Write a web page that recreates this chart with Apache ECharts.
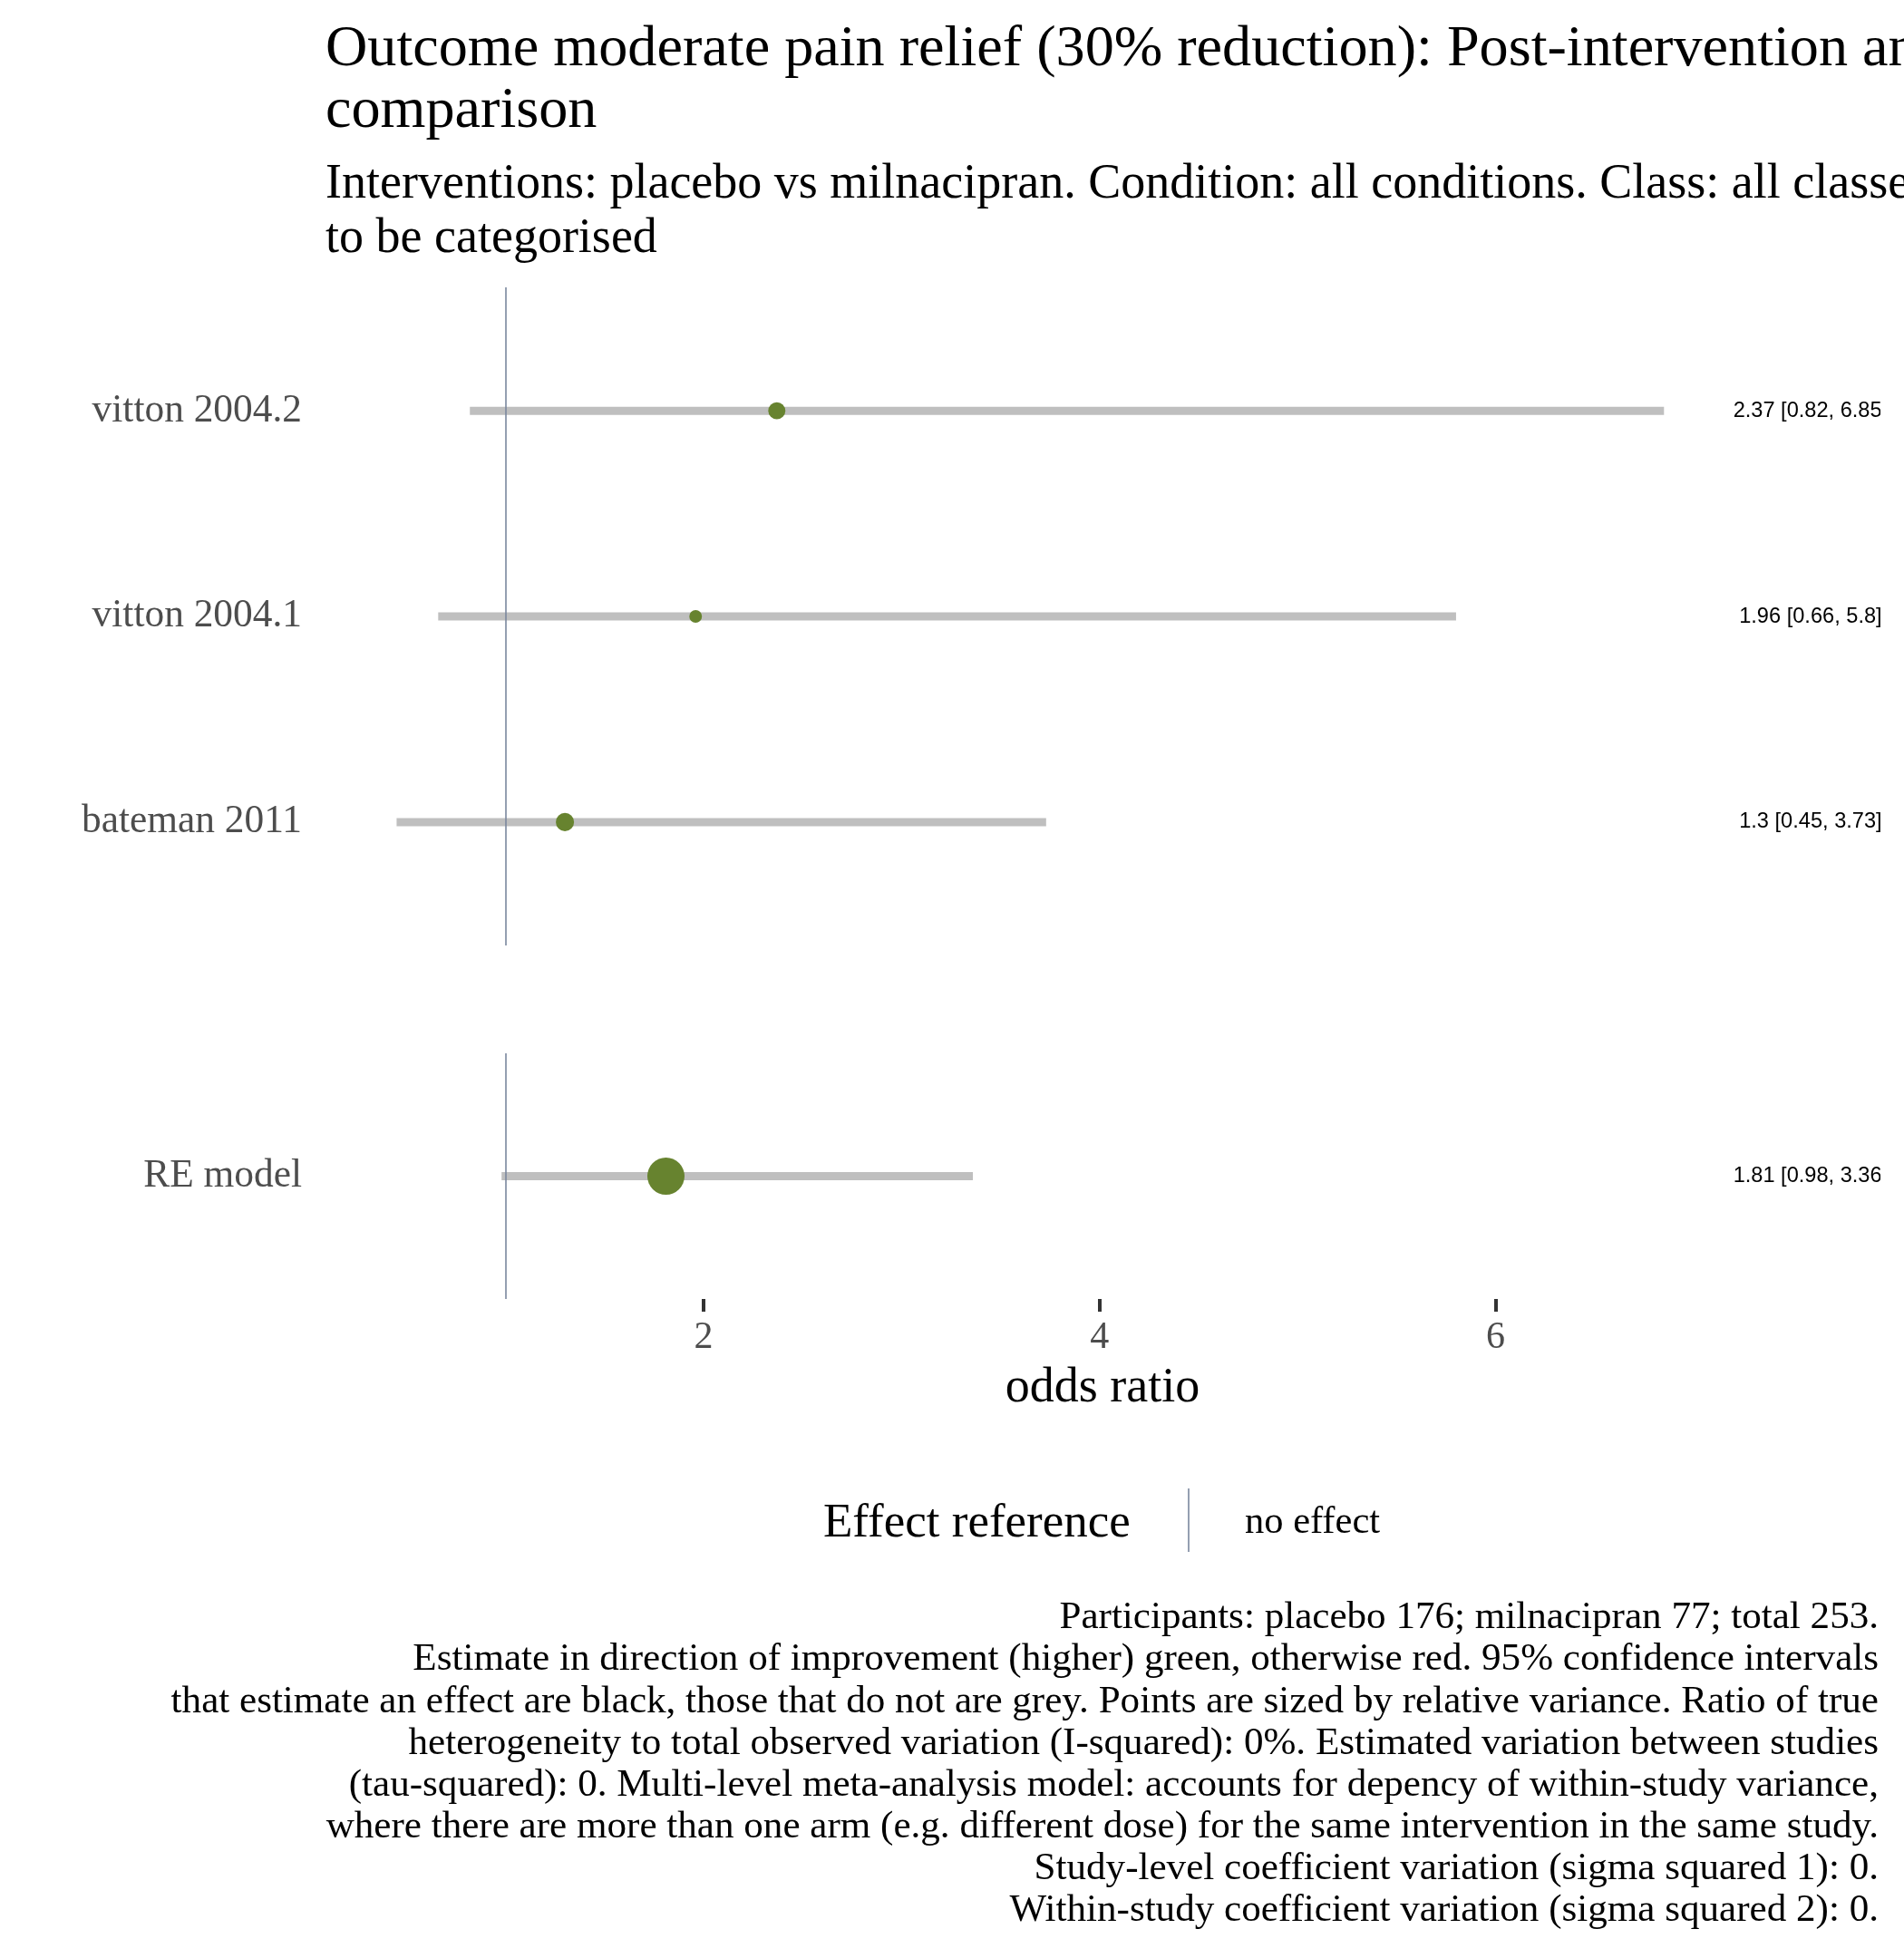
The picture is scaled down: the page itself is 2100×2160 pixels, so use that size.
<!DOCTYPE html>
<html><head><meta charset="utf-8">
<script src="https://cdn.jsdelivr.net/npm/echarts@6/dist/echarts.min.js"></script>
<style>html,body{margin:0;padding:0;background:#fff}#c{width:2100px;height:2160px}</style>
</head><body><div id="c"></div>
<script>
// ---- data ----
const studies = ['vitton 2004.2', 'vitton 2004.1', 'bateman 2011'];
const studyEst = [2.37, 1.96, 1.3];
const studyLo = [0.82, 0.66, 0.45];
const studyHi = [6.85, 5.8, 3.73];
const studyWeight = [0.46, 0.34, 0.49];
const modelNames = ['RE model'];
const modelEst = [1.81];
const modelLo = [0.98];
const modelHi = [3.36];
const modelWeight = [1];
const xTicks = [2, 4, 6];
const noEffect = [1];

const titleLines = ['Outcome moderate pain relief (30% reduction): Post-intervention and', 'comparison'];
const subtitleLines = ['Interventions: placebo vs milnacipran. Condition: all conditions. Class: all classes', 'to be categorised'];
const captionLines = [
  'Participants: placebo 176; milnacipran 77; total 253.',
  'Estimate in direction of improvement (higher) green, otherwise red. 95% confidence intervals',
  'that estimate an effect are black, those that do not are grey. Points are sized by relative variance. Ratio of true',
  'heterogeneity to total observed variation (I-squared): 0%. Estimated variation between studies',
  '(tau-squared): 0. Multi-level meta-analysis model: accounts for depency of within-study variance,',
  'where there are more than one arm (e.g. different dose) for the same intervention in the same study.',
  'Study-level coefficient variation (sigma squared 1): 0.',
  'Within-study coefficient variation (sigma squared 2): 0.'
];

// ---- styles / layout ----
const SERIF = 'Liberation Serif, Times New Roman, serif';
const SANS = 'Liberation Sans, Arial, sans-serif';
const GREEN = '#67832F';
const CI_GREY = '#BFBFBF';
const REF = '#7A879E';
const XMIN = 0.0863, XMAX = 7.943;
const LABEL_X = 7.59;
const MAX_PT = 41;
const GL = 358, GW = 1716;

const chart = echarts.init(document.getElementById('c'), null, {renderer: 'canvas'});

function ciSeries(idx, lo, hi) {
  return {
    type: 'custom', xAxisIndex: idx, yAxisIndex: idx, z: 1, silent: true,
    data: lo.map((v, i) => [v, hi[i], i + 1]),
    renderItem: (params, api) => {
      const a = api.coord([api.value(0), api.value(2)]);
      const b = api.coord([api.value(1), api.value(2)]);
      return {type: 'line', shape: {x1: a[0], y1: a[1], x2: b[0], y2: b[1]},
        style: {stroke: CI_GREY, lineWidth: 9, lineCap: 'butt'}};
    }
  };
}
function ptSeries(idx, est, w) {
  return {
    type: 'scatter', xAxisIndex: idx, yAxisIndex: idx, z: 3, silent: true,
    data: est.map((v, i) => [v, i + 1]),
    symbol: 'circle',
    symbolSize: (val, p) => MAX_PT * w[p.dataIndex],
    itemStyle: {color: GREEN, opacity: 1},
    markLine: {
      silent: true, symbol: ['none', 'none'], label: {show: false},
      lineStyle: {color: REF, width: 1.6, type: 'solid'},
      data: noEffect.map(v => ({xAxis: v})), animation: false
    }
  };
}
function lblSeries(idx, est, lo, hi) {
  return {
    type: 'custom', xAxisIndex: idx, yAxisIndex: idx, z: 4, silent: true, clip: true,
    data: est.map((v, i) => [LABEL_X, i + 1]),
    renderItem: (params, api) => {
      const i = params.dataIndex;
      const p = api.coord([api.value(0), api.value(1)]);
      return {type: 'text', x: p[0], y: p[1],
        style: {text: est[i] + ' [' + lo[i] + ', ' + hi[i] + ']', fill: '#000',
          fontSize: 23.6, fontFamily: SANS, align: 'center', verticalAlign: 'middle'}};
    }
  };
}
function yAx(idx, names, max) {
  return {
    type: 'value', gridIndex: idx, inverse: true, min: 0.4, max: max,
    axisLine: {show: false}, axisTick: {show: false}, splitLine: {show: false},
    axisLabel: {customValues: names.map((n, i) => i + 1),
      formatter: v => names[Math.round(v) - 1] || '',
      fontSize: 43.4, fontFamily: SERIF, color: '#4D4D4D', margin: 25}
  };
}

const graphics = [];
titleLines.forEach((t, i) => graphics.push({type: 'text', x: 359, y: 55 + i * 68.5,
  style: {text: t, fontSize: 64.2, fontFamily: SERIF, fill: '#000', verticalAlign: 'middle'}}));
subtitleLines.forEach((t, i) => graphics.push({type: 'text', x: 359, y: 204 + i * 59.6,
  style: {text: t, fontSize: 54, fontFamily: SERIF, fill: '#000', verticalAlign: 'middle'}}));
captionLines.forEach((t, i) => graphics.push({type: 'text', x: 2072, y: 1785 + i * 46.1,
  style: {text: t, fontSize: 43.1, fontFamily: SERIF, fill: '#000', align: 'right', verticalAlign: 'middle'}}));
graphics.push({type: 'text', x: 908, y: 1681,
  style: {text: 'Effect reference', fontSize: 53, fontFamily: SERIF, fill: '#000', verticalAlign: 'middle'}});
graphics.push({type: 'line', shape: {x1: 1311, y1: 1642, x2: 1311, y2: 1712},
  style: {stroke: REF, lineWidth: 1.6}});
graphics.push({type: 'text', x: 1373, y: 1679.5,
  style: {text: 'no effect', fontSize: 42.5, fontFamily: SERIF, fill: '#000', verticalAlign: 'middle'}});

chart.setOption({
  animation: false,
  backgroundColor: '#fff',
  grid: [
    {left: GL, width: GW, top: 317, height: 726},
    {left: GL, width: GW, top: 1162, height: 271}
  ],
  xAxis: [
    {type: 'value', gridIndex: 0, min: XMIN, max: XMAX, show: false, splitLine: {show: false}},
    {type: 'value', gridIndex: 1, min: XMIN, max: XMAX, splitLine: {show: false},
      axisLine: {show: false},
      axisTick: {show: true, customValues: xTicks, length: 14, lineStyle: {color: '#333', width: 4}},
      axisLabel: {customValues: xTicks, fontSize: 42, fontFamily: SERIF, color: '#4D4D4D', margin: 22},
      name: 'odds ratio', nameLocation: 'middle', nameGap: 72,
      nameTextStyle: {fontSize: 54, fontFamily: SERIF, color: '#000'}}
  ],
  yAxis: [yAx(0, studies, 3.6), yAx(1, modelNames, 1.6)],
  series: [
    ciSeries(0, studyLo, studyHi), ptSeries(0, studyEst, studyWeight), lblSeries(0, studyEst, studyLo, studyHi),
    ciSeries(1, modelLo, modelHi), ptSeries(1, modelEst, modelWeight), lblSeries(1, modelEst, modelLo, modelHi)
  ],
  graphic: graphics
});
</script>
</body></html>
